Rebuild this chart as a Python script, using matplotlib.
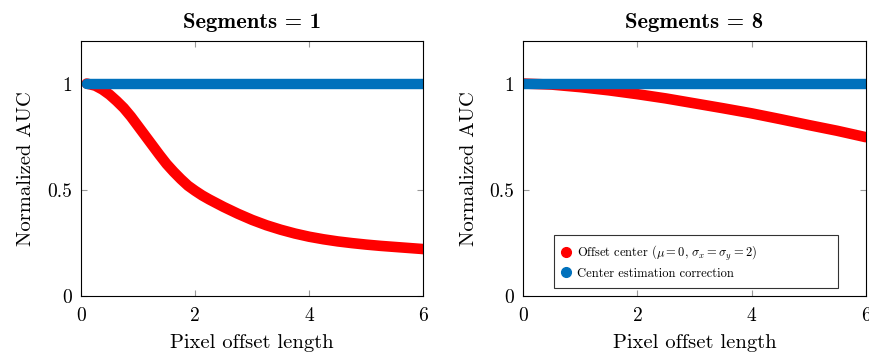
import matplotlib
matplotlib.use("Agg")
import matplotlib.pyplot as plt
from matplotlib.lines import Line2D
from matplotlib.ticker import FixedLocator, FuncFormatter

plt.rcParams['font.family'] = ['cmr10', 'DejaVu Serif']
plt.rcParams['mathtext.fontset'] = 'cm'
plt.rcParams['axes.formatter.use_mathtext'] = True

# ---- data ----
titles = ["Segments = 1", "Segments = 8"]

seg1_x = [0.1, 0.25, 0.375, 0.5, 0.625, 0.75, 0.875, 1.0, 1.125, 1.25, 1.375,
          1.5, 1.625, 1.75, 1.875, 2.0, 2.125, 2.25, 2.5, 2.75, 3.0, 3.25,
          3.5, 3.75, 4.0, 4.25, 4.5, 4.75, 5.0, 5.25, 5.5, 5.75, 6.0]
seg1_offset = [1.0, 0.99, 0.972, 0.948, 0.918, 0.885, 0.845, 0.80, 0.755, 0.71,
               0.665, 0.622, 0.585, 0.551, 0.52, 0.496, 0.474, 0.455, 0.420,
               0.388, 0.359, 0.334, 0.313, 0.295, 0.280, 0.268, 0.258, 0.250,
               0.243, 0.237, 0.232, 0.227, 0.222]
seg1_corr_x = [0.1, 6.0]
seg1_corr = [1.0, 1.0]

seg8_x = [0.0, 0.5, 1.0, 1.5, 2.0, 2.5, 3.0, 3.5, 4.0, 4.5, 5.0, 5.5, 6.0]
seg8_offset = [1.0, 0.995, 0.983, 0.968, 0.95, 0.93, 0.907, 0.884, 0.86,
               0.833, 0.805, 0.778, 0.748]
seg8_corr_x = [0.0, 6.0]
seg8_corr = [1.0, 1.0]

x_ticks = [0, 2, 4, 6]
y_ticks = [0, 0.5, 1]
legend_labels = [r"Offset center ($\mu = 0$, $\sigma_x = \sigma_y = 2$)",
                 "Center estimation correction"]

RED = "#FF0000"
BLUE = "#0071BC"
TICK_FS = 14
LABEL_FS = 14.8
TITLE_FS = 16.3

fig = plt.figure(figsize=(8.69, 3.56), dpi=100)
bottom = 1 - 296.3 / 356
top = 1 - 41 / 356
ax1 = fig.add_axes([81 / 869, bottom, (423.3 - 81) / 869, top - bottom])
ax2 = fig.add_axes([523.3 / 869, bottom, (865.7 - 523.3) / 869, top - bottom])

series = [
    (ax1, seg1_x, seg1_offset, seg1_corr_x, seg1_corr),
    (ax2, seg8_x, seg8_offset, seg8_corr_x, seg8_corr),
]

for i, (ax, xs, ys, cx, cy) in enumerate(series):
    ax.plot(xs, ys, color=RED, lw=7.6, solid_capstyle='round',
            solid_joinstyle='round', zorder=2)
    ax.plot(cx, cy, color=BLUE, lw=7.5, solid_capstyle='round', zorder=3)
    ax.set_xlim(0, 6)
    ax.set_ylim(0, 1.2)
    ax.xaxis.set_major_locator(FixedLocator(x_ticks))
    ax.yaxis.set_major_locator(FixedLocator(y_ticks))
    fmt = FuncFormatter(lambda v, p: "%g" % v)
    ax.xaxis.set_major_formatter(fmt)
    ax.yaxis.set_major_formatter(fmt)
    ax.tick_params(direction='in', length=4.5, width=0.8, color='#999999',
                   top=True, right=True, labelsize=TICK_FS)
    ax.tick_params(axis='x', pad=8)
    ax.tick_params(axis='y', pad=6.5)
    for s in ax.spines.values():
        s.set_linewidth(0.8)
        s.set_zorder(5)
    ax.set_xlabel("Pixel offset length", fontsize=LABEL_FS, labelpad=6.5)
    ax.set_ylabel("Normalized AUC", fontsize=LABEL_FS, labelpad=8.5)
    ax.set_title(titles[i], fontsize=TITLE_FS, family=['cmb10', 'DejaVu Serif'], pad=9)

handles = [
    Line2D([], [], ls='none', marker='o', markersize=7, color=RED),
    Line2D([], [], ls='none', marker='o', markersize=7, color=BLUE),
]
leg = ax2.legend(handles, legend_labels, loc='lower left',
                 bbox_to_anchor=(0.0906, 0.033, 0.8274, 0.2), mode='expand',
                 borderaxespad=0,
                 fontsize=9, frameon=True, fancybox=False, edgecolor='black',
                 handlelength=0.6, handletextpad=0.55, borderpad=0.65,
                 labelspacing=0.4)
leg.get_frame().set_linewidth(0.8)
leg.set_zorder(10)

fig.savefig("out.png", dpi=100)
